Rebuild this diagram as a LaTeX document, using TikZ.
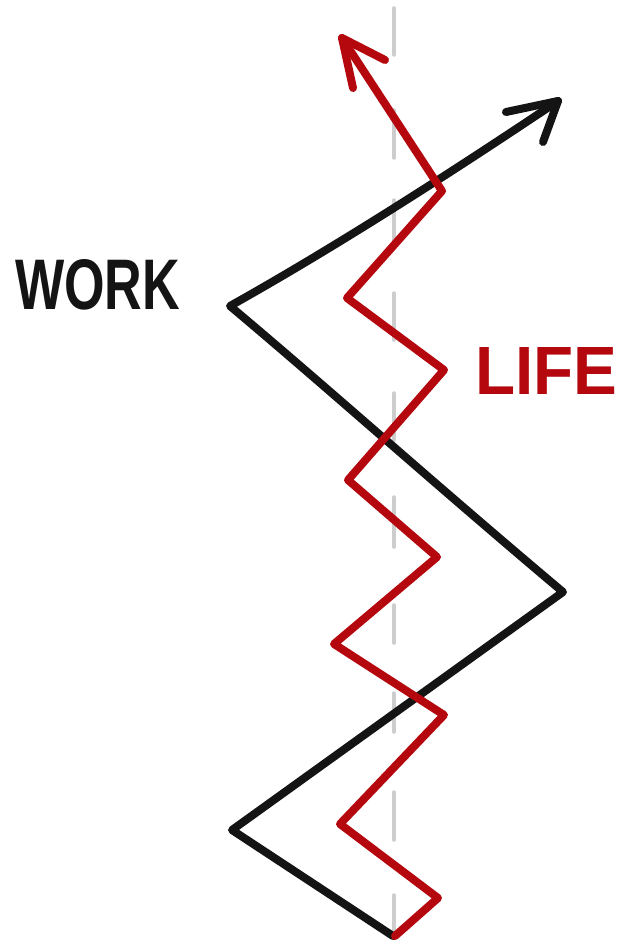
\documentclass[tikz,border=0pt]{standalone}
\usepackage{fontspec}
\setmainfont{Liberation Sans}
\definecolor{lifered}{RGB}{180,8,14}
\definecolor{ink}{RGB}{20,20,20}
\definecolor{guide}{RGB}{205,205,205}
\begin{document}
\begin{tikzpicture}[x=1pt,y=-1pt,
  guideline/.style={guide, line width=3.5pt, line cap=round},
  workline/.style={ink, line width=8pt, line cap=round, line join=round},
  lifeline/.style={lifered, line width=8pt, line cap=round, line join=round},
  label/.style={inner sep=0pt, anchor=south west}]
\useasboundingbox (0,0) rectangle (619,944);
% dashed centre guide
\foreach \a/\b in {8/55,110/158,200/242,293/340,393/440,497/547,605/643,693/732,792/840,895/935}
  \draw[guideline] (394,\a) -- (394,\b);
% work line
\coordinate (b0) at (393,936);
\coordinate (b1) at (232,830);
\coordinate (b2) at (563,592);
\coordinate (b3) at (230,306);
\coordinate (b4) at (558,101);
\coordinate (bw1) at (506,112);
\coordinate (bw2) at (543,142);
\draw[workline] (b0) -- (b1) -- (b2) .. controls (430,480) and (330,390) .. (b3)
  .. controls (330,250) and (440,180) .. (b4);
\draw[workline] (bw1) -- (b4) -- (bw2);
% life line
\coordinate (r0) at (395,936);
\coordinate (r1) at (438,898);
\coordinate (r2) at (340,824);
\coordinate (r3) at (444,715);
\coordinate (r4) at (334,644);
\coordinate (r5) at (437,557);
\coordinate (r6) at (348,480);
\coordinate (r7) at (444,370);
\coordinate (r8) at (347,298);
\coordinate (r9) at (442,191);
\coordinate (r10) at (342,38);
\coordinate (rw1) at (385,60);
\coordinate (rw2) at (353,88);
\draw[lifeline] (r0) -- (r1) -- (r2) -- (r3) -- (r4) -- (r5) -- (r6) -- (r7) -- (r8) -- (r9) -- (r10);
\draw[lifeline] (rw1) -- (r10) -- (rw2);
% labels
\node[label, ink] (work) at (15,310) {\resizebox{165pt}{50pt}{\bfseries WORK}};
\node[label, lifered] (life) at (475,395) {\resizebox{142pt}{47pt}{\bfseries LIFE}};
\end{tikzpicture}
\end{document}
